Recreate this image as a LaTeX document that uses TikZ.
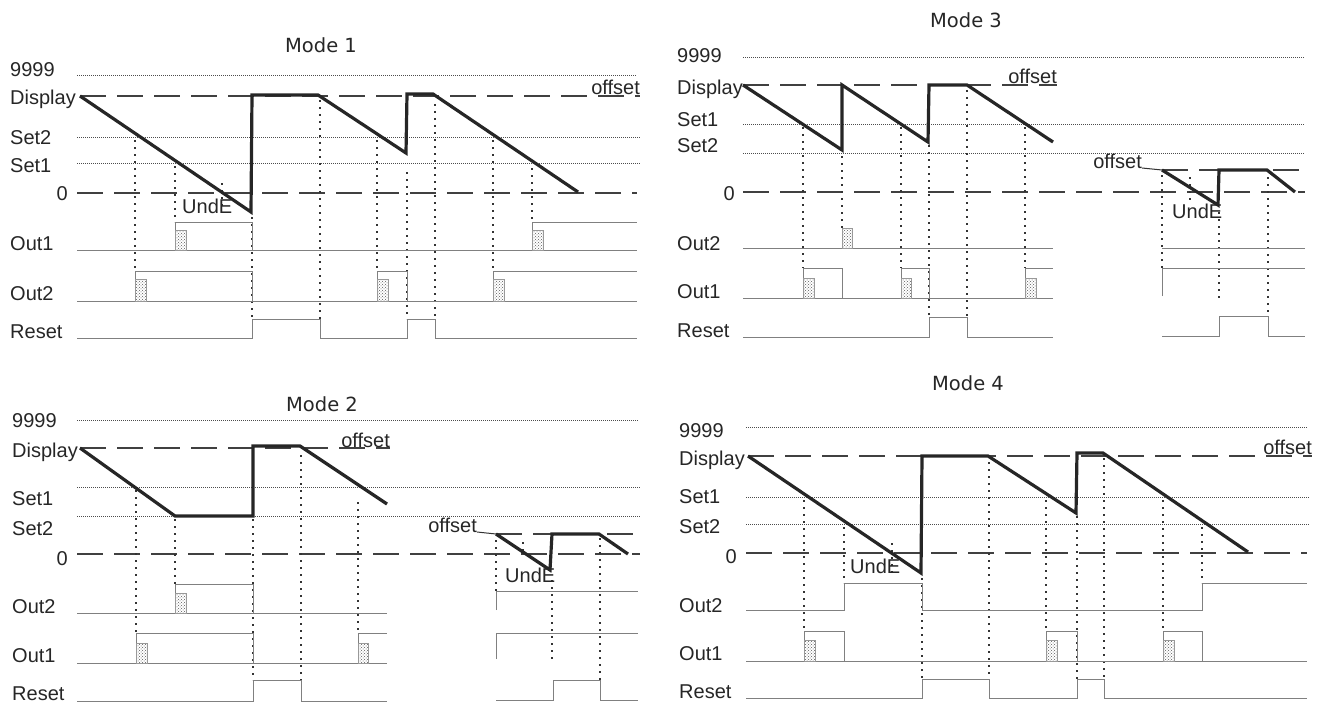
\documentclass[tikz,border=0pt]{standalone}
\usepackage{fontspec}
\setmainfont{Liberation Sans}
\newfontfamily\ttlfam{DejaVu Sans}
\usetikzlibrary{patterns}
\tikzset{
  lbl/.style={font=\fontsize{20}{22}\selectfont, anchor=base west, inner sep=0pt, text=black!85},
  lblr/.style={lbl, anchor=base east},
  ttl/.style={font=\ttlfam\fontsize{19.5}{22}\selectfont, inner sep=0pt, text=black!85},
  lvl/.style={dash pattern=on 1pt off 1pt, line width=0.9pt, black!70},
  refl/.style={dash pattern=on 26pt off 11pt, line width=1.8pt, black!75},
  trace/.style={line width=3.2pt, black!85, line join=miter},
  sig/.style={line width=0.9pt, black!50},
  guide/.style={dash pattern=on 1.6pt off 5.4pt, line width=1.6pt, black!80},
  stip/.style={pattern=crosshatch dots, pattern color=black!65, draw=black!40, line width=0.5pt},
}
\begin{document}
\begin{tikzpicture}[x=1pt, y=-1pt]
\useasboundingbox (0,0) rectangle (1327,706);

% ================= MODE 1 =================
\node[ttl] (t1) at (321,45) {Mode 1};
\node[lbl] (m1a) at (10,77) {9999};
\node[lbl] (m1b) at (10,105) {Display};
\node[lbl] (m1c) at (10,145) {Set2};
\node[lbl] (m1d) at (10,172) {Set1};
\node[lblr] (m1e) at (68,200) {0};
\node[lbl] (m1f) at (10,250) {Out1};
\node[lbl] (m1g) at (10,300) {Out2};
\node[lbl] (m1h) at (10,338) {Reset};
\draw[lvl] (77,75) -- (637,75);
\draw[refl] (80,96) -- (640,96);
\draw[lvl] (77,137) -- (640,137);
\draw[lvl] (77,163) -- (640,163);
\draw[refl] (77,193) -- (637,193);
% guides
\draw[guide] (135,140) -- (135,271);
\draw[guide] (175,166) -- (175,222);
\draw[guide] (222,183) -- (222,210);
\draw[guide] (252,217) -- (252,319);
\draw[guide] (320,100) -- (320,319);
\draw[guide] (377,140) -- (377,271);
\draw[guide] (407,172) -- (407,319);
\draw[guide] (435,104) -- (435,319);
\draw[guide] (493,140) -- (493,271);
\draw[guide] (532,168) -- (532,222);
% signals
\draw[sig] (77,250) -- (637,250);
\draw[sig] (175,250) -- (175,222) -- (252,222) -- (252,250);
\draw[sig] (532,250) -- (532,222) -- (637,222);
\draw[stip] (175,230) rectangle (186,250);
\draw[stip] (532,230) rectangle (543,250);
\draw[sig] (77,301) -- (637,301);
\draw[sig] (135,301) -- (135,271) -- (252,271) -- (252,301);
\draw[sig] (377,301) -- (377,271) -- (407,271) -- (407,301);
\draw[sig] (493,301) -- (493,271) -- (637,271);
\draw[stip] (135,279) rectangle (146,301);
\draw[stip] (377,279) rectangle (388,301);
\draw[stip] (493,279) rectangle (504,301);
\draw[sig] (77,338) -- (252,338) -- (252,319) -- (320,319) -- (320,338) -- (407,338) -- (407,319) -- (435,319) -- (435,338) -- (637,338);
\node[lbl] (u1) at (182,213) {UndE};
\node[lblr] (o1) at (640,95) {offset};
\draw[trace] (80,96) -- (251,212) -- (252,95) -- (318,95) -- (406,153) -- (407,94) -- (433,94) -- (578,192);

% ================= MODE 3 =================
\node[ttl] (t3) at (966,20) {Mode 3};
\node[lbl] (m3a) at (677,63) {9999};
\node[lbl] (m3b) at (677,95) {Display};
\node[lbl] (m3c) at (677,127) {Set1};
\node[lbl] (m3d) at (677,153) {Set2};
\node[lblr] (m3e) at (735,200) {0};
\node[lbl] (m3f) at (677,250) {Out2};
\node[lbl] (m3g) at (677,298) {Out1};
\node[lbl] (m3h) at (677,337) {Reset};
\draw[lvl] (743,57) -- (1305,57);
\draw[refl] (743,85) -- (1057,85);
\draw[lvl] (743,124) -- (1305,124);
\draw[lvl] (743,153) -- (1305,153);
\draw[refl] (743,192) -- (1305,192);
\draw[refl] (1162,170) -- (1305,170);
% guides
\draw[guide] (803,127) -- (803,268);
\draw[guide] (842,156) -- (842,228);
\draw[guide] (901,127) -- (901,268);
\draw[guide] (929,145) -- (929,317);
\draw[guide] (967,90) -- (967,317);
\draw[guide] (1025,127) -- (1025,268);
\draw[guide] (1162,175) -- (1162,268);
\draw[guide] (1190,177) -- (1190,203);
\draw[guide] (1219,212) -- (1219,300);
\draw[guide] (1268,177) -- (1268,316);
% signals
\draw[sig] (743,248) -- (1053,248);
\draw[sig] (1162,248) -- (1305,248);
\draw[stip] (842,228) rectangle (852,248);
\draw[sig] (743,298) -- (1053,298);
\draw[sig] (803,298) -- (803,268) -- (842,268) -- (842,298);
\draw[sig] (901,298) -- (901,268) -- (929,268) -- (929,298);
\draw[sig] (1025,298) -- (1025,268) -- (1053,268);
\draw[stip] (803,278) rectangle (814,298);
\draw[stip] (901,278) rectangle (911,298);
\draw[stip] (1025,278) rectangle (1036,298);
\draw[sig] (1162,296) -- (1162,268) -- (1305,268);
\draw[sig] (743,337) -- (929,337) -- (929,317) -- (967,317) -- (967,337) -- (1053,337);
\draw[sig] (1162,336) -- (1219,336) -- (1219,316) -- (1268,316) -- (1268,336) -- (1305,336);
\node[lbl] (u3) at (1172,218) {UndE};
\node[lblr] (o3) at (1057,84) {offset};
\node[lblr] (o3b) at (1142,168) {offset};
\draw[line width=1pt, black!80] (o3b.base east) -- (1162,170);
\draw[trace] (743,85) -- (842,150) -- (842,85) -- (928,142) -- (929,85) -- (967,85) -- (1053,142);
\draw[trace] (1162,170) -- (1218,205) -- (1219,170) -- (1267,170) -- (1295,192);

% ================= MODE 2 =================
\node[ttl] (t2) at (322,404) {Mode 2};
\node[lbl] (m2a) at (12,427) {9999};
\node[lbl] (m2b) at (12,457) {Display};
\node[lbl] (m2c) at (12,505) {Set1};
\node[lbl] (m2d) at (12,535) {Set2};
\node[lblr] (m2e) at (68,565) {0};
\node[lbl] (m2f) at (12,613) {Out2};
\node[lbl] (m2g) at (12,662) {Out1};
\node[lbl] (m2h) at (12,700) {Reset};
\draw[lvl] (77,420) -- (638,420);
\draw[refl] (80,448) -- (390,448);
\draw[lvl] (77,487) -- (640,487);
\draw[lvl] (77,516) -- (640,516);
\draw[refl] (77,554) -- (640,554);
\draw[refl] (496,534) -- (640,534);
% guides
\draw[guide] (136,490) -- (136,633);
\draw[guide] (175,519) -- (175,584);
\draw[guide] (253,519) -- (253,680);
\draw[guide] (301,455) -- (301,680);
\draw[guide] (358,502) -- (358,633);
\draw[guide] (496,540) -- (496,591);
\draw[guide] (523,542) -- (523,555);
\draw[guide] (552,580) -- (552,663);
\draw[guide] (600,538) -- (600,680);
% signals
\draw[sig] (77,613) -- (387,613);
\draw[sig] (175,613) -- (175,584) -- (253,584) -- (253,613);
\draw[stip] (175,593) rectangle (186,613);
\draw[sig] (496,610) -- (496,591) -- (638,591);
\draw[sig] (77,663) -- (387,663);
\draw[sig] (136,663) -- (136,633) -- (253,633) -- (253,663);
\draw[sig] (358,663) -- (358,633) -- (387,633);
\draw[stip] (136,643) rectangle (147,663);
\draw[stip] (358,643) rectangle (368,663);
\draw[sig] (496,659) -- (496,633) -- (638,633);
\draw[sig] (77,701) -- (253,701) -- (253,680) -- (301,680) -- (301,701) -- (387,701);
\draw[sig] (496,700) -- (553,700) -- (553,680) -- (600,680) -- (600,700) -- (638,700);
\node[lbl] (u2) at (505,582) {UndE};
\node[lblr] (o2) at (390,447) {offset};
\node[lblr] (o2b) at (477,532) {offset};
\draw[line width=1pt, black!80] (o2b.base east) -- (496,534);
\draw[trace] (80,448) -- (175,516) -- (253,516) -- (253,446) -- (300,446) -- (387,504);
\draw[trace] (496,534) -- (550,570) -- (552,534) -- (599,534) -- (628,554);

% ================= MODE 4 =================
\node[ttl] (t4) at (968,383) {Mode 4};
\node[lbl] (m4a) at (679,437) {9999};
\node[lbl] (m4b) at (679,465) {Display};
\node[lbl] (m4c) at (679,503) {Set1};
\node[lbl] (m4d) at (679,533) {Set2};
\node[lblr] (m4e) at (737,563) {0};
\node[lbl] (m4f) at (679,612) {Out2};
\node[lbl] (m4g) at (679,660) {Out1};
\node[lbl] (m4h) at (679,698) {Reset};
\draw[lvl] (746,427) -- (1307,427);
\draw[refl] (748,456) -- (1312,456);
\draw[lvl] (746,497) -- (1309,497);
\draw[lvl] (746,524) -- (1309,524);
\draw[refl] (746,553) -- (1307,553);
% guides
\draw[guide] (804,500) -- (804,631);
\draw[guide] (844,527) -- (844,583);
\draw[guide] (892,543) -- (892,573);
\draw[guide] (922,578) -- (922,679);
\draw[guide] (989,462) -- (989,679);
\draw[guide] (1046,500) -- (1046,631);
\draw[guide] (1077,516) -- (1077,679);
\draw[guide] (1104,458) -- (1104,679);
\draw[guide] (1163,500) -- (1163,631);
\draw[guide] (1202,527) -- (1202,583);
% signals
\draw[sig] (746,610) -- (844,610) -- (844,583) -- (922,583) -- (922,610) -- (1202,610) -- (1202,583) -- (1307,583);
\draw[sig] (746,661) -- (1307,661);
\draw[sig] (804,661) -- (804,631) -- (844,631) -- (844,661);
\draw[sig] (1046,661) -- (1046,631) -- (1077,631) -- (1077,661);
\draw[sig] (1163,661) -- (1163,631) -- (1202,631) -- (1202,661);
\draw[stip] (804,640) rectangle (815,661);
\draw[stip] (1046,640) rectangle (1057,661);
\draw[stip] (1163,640) rectangle (1174,661);
\draw[sig] (746,698) -- (922,698) -- (922,679) -- (989,679) -- (989,698) -- (1077,698) -- (1077,679) -- (1104,679) -- (1104,698) -- (1307,698);
\node[lbl] (u4) at (850,573) {UndE};
\node[lblr] (o4) at (1312,454) {offset};
\draw[trace] (748,456) -- (921,573) -- (922,456) -- (988,456) -- (1076,513) -- (1077,453) -- (1103,453) -- (1248,552);
\end{tikzpicture}
\end{document}
